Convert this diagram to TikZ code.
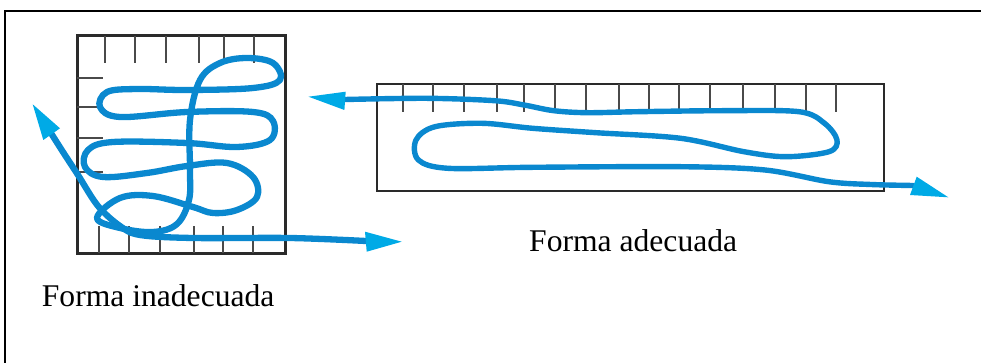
\documentclass[tikz,border=0pt]{standalone}
\usepackage{fontspec}
\setmainfont{Liberation Serif}
\definecolor{loopblue}{HTML}{0A88CF}
\definecolor{tipblue}{HTML}{00AAE6}
\definecolor{boxgray}{HTML}{2A2A2A}
\definecolor{tickgray}{HTML}{4A4A4A}
\tikzset{
  frameline/.style={draw=black, line width=2pt},
  boxline/.style={draw=boxgray, line width=3pt},
  thinbox/.style={draw=boxgray, line width=2pt},
  tickline/.style={draw=tickgray, line width=2pt},
  thintick/.style={draw=tickgray, line width=1.4pt},
  route/.style={draw=loopblue, line width=6.3pt, line cap=round, line join=round},
  thinroute/.style={route, line width=5.4pt},
  tiphead/.style={fill=tipblue},
  caption/.style={anchor=base west, inner sep=0pt, font=\fontsize{31.6}{36}\selectfont}
}
\begin{document}
\begin{tikzpicture}[x=1pt, y=-1pt]
\useasboundingbox (0,0) rectangle (981,363);

% outer frame (top and left edges)
\draw[frameline] (5,363) -- (5,11) -- (981,11);

% ---- square container ----
\draw[boxline] (77,36) rectangle (285,253);
\foreach \x in {105,135,166,199,224,254} \draw[tickline] (\x,36) -- (\x,63);
\foreach \y in {78,107,138,172} \draw[tickline] (77,\y) -- (103,\y);
\foreach \x in {99,129,160,194,223,253} \draw[tickline] (\x,226) -- (\x,253);

% tangled loops inside the square
\draw[route] plot[smooth cycle, tension=0.6] coordinates {
  (97,218) (120,198) (153,196) (193,207) (213,213) (237,210) (257,197)
  (253,177) (227,163) (187,166) (147,173) (103,177) (85,167) (88,150)
  (113,142) (187,143) (237,147) (270,140) (273,121) (253,112) (187,112)
  (120,117) (100,107) (107,92) (137,89) (187,90) (253,88) (280,80)
  (273,63) (247,58) (220,63) (200,80) (190,120) (190,170) (189,200)
  (177,224) (153,232) (120,228)};

% pass that enters and leaves the square
\draw[route] plot[smooth, tension=0.55] coordinates {
  (51.7,134.2) (63,152) (78,175) (98,206) (120,226) (140,235) (193,238)
  (290,238) (366,241)};
\fill[tiphead] (32.7,104.3) -- (60,128.3) -- (43.3,140) -- cycle;
\fill[tiphead] (401.7,241.7) -- (365,231.7) -- (366.7,251.7) -- cycle;

% ---- long container ----
\draw[thinbox] (377,84) rectangle (884,191);
\foreach \x in {403,433,464,497,524,555,586,619,649,679,710,743,775,806,836}
  \draw[thintick] (\x,84) -- (\x,112);

\draw[thinroute] plot[smooth, tension=0.55] coordinates {
  (345,99.5) (427,98.3) (494.6,100.7) (524,105) (553.8,110.7) (587.6,112.7)
  (638,111.7) (723,110.7) (799,111.7) (824.5,123.3) (837,140) (829,151.7)
  (786,156.7) (744,151.7) (680.7,138.3) (596,132.7) (532.7,128.3)
  (482,123.3) (435,126.7) (416,140) (418.4,160) (448,168.3) (532.7,167.3)
  (680.7,166.7) (765,170) (828.8,181.7) (871,184.5) (913,185.5)};
\fill[tiphead] (308.5,96.7) -- (345.7,91.7) -- (344.4,110) -- cycle;
\fill[tiphead] (948.3,197.3) -- (916.7,176.7) -- (910,195) -- cycle;

% ---- labels ----
\node[caption] (lblgood) at (529,251.7) {Forma adecuada};
\node[caption] (lblbad) at (41.7,306) {Forma inadecuada};
\end{tikzpicture}
\end{document}
